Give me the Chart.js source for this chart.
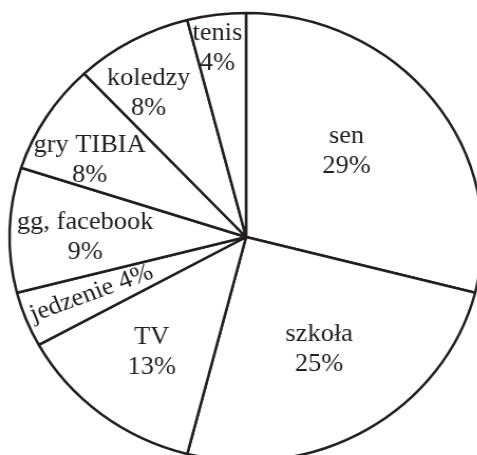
<!DOCTYPE html>
<html lang="pl">
<head>
<meta charset="UTF-8">
<title>Jak spędzam czas</title>
<style>
    html, body { margin: 0; padding: 0; background: #fff; overflow: hidden; width: 477px; height: 455px; }
    #wrap { position: relative; width: 477px; height: 455px; overflow: hidden; }
    /* the original pie is a little wider than tall */
    #wykres { position: absolute; left: 0; top: 0; transform-origin: 0 0; transform: scaleX(1.056); }
</style>
<script src="https://cdn.jsdelivr.net/npm/chart.js"></script>
</head>
<body>
<div id="wrap"><canvas id="wykres" width="470" height="475"></canvas></div>
<script>
    var kategorie = ['sen', 'szkoła', 'TV', 'jedzenie', 'gg, facebook', 'gry TIBIA', 'koledzy', 'tenis'];
    var procenty = [29, 25, 13, 4, 9, 8, 8, 4];

    // gdzie stoi napis: ułamek promienia i przesunięcie kąta (stopnie)
    var napisR = [0.57, 0.59, 0.65, 0.70, 0.68, 0.745, 0.76, 0.85];
    var napisKat = [-4, -1, 0, 0.5, -2, -5, -4, -1];

    const etykiety = {
        id: 'etykiety',
        afterDatasetsDraw(chart) {
            const ctx = chart.ctx;
            const arcs = chart.getDatasetMeta(0).data;
            ctx.save();
            ctx.fillStyle = '#231f20';
            ctx.font = '25px "Liberation Serif", "Times New Roman", serif';
            ctx.textAlign = 'center';
            ctx.textBaseline = 'middle';
            arcs.forEach(function (arc, i) {
                const kat = (arc.startAngle + arc.endAngle) / 2 + napisKat[i] * Math.PI / 180;
                const r = arc.outerRadius * napisR[i];
                const x = arc.x + Math.cos(kat) * r;
                const y = arc.y + Math.sin(kat) * r;
                const proc = procenty[i] + '%';
                if (i == 3) {
                    // jedzenie - napis wzdłuż wycinka
                    ctx.save();
                    ctx.translate(x, y);
                    ctx.rotate(kat - Math.PI);
                    ctx.fillText(kategorie[i] + ' ' + proc, 0, 0);
                    ctx.restore();
                } else {
                    ctx.fillText(kategorie[i], x, y - 15);
                    ctx.fillText(proc, x, y + 15);
                }
            });
            ctx.restore();
        }
    };

    new Chart(document.getElementById('wykres'), {
        type: 'pie',
        data: {
            labels: kategorie,
            datasets: [{
                data: procenty,
                backgroundColor: '#ffffff',
                borderColor: '#231f20',
                borderWidth: 2.5,
                radius: 224
            }]
        },
        options: {
            responsive: false,
            animation: false,
            layout: { padding: { left: 9, right: 13, top: 13, bottom: 14 } },
            plugins: {
                legend: { display: false },
                tooltip: { enabled: false }
            }
        },
        plugins: [etykiety]
    });
</script>
</body>
</html>
